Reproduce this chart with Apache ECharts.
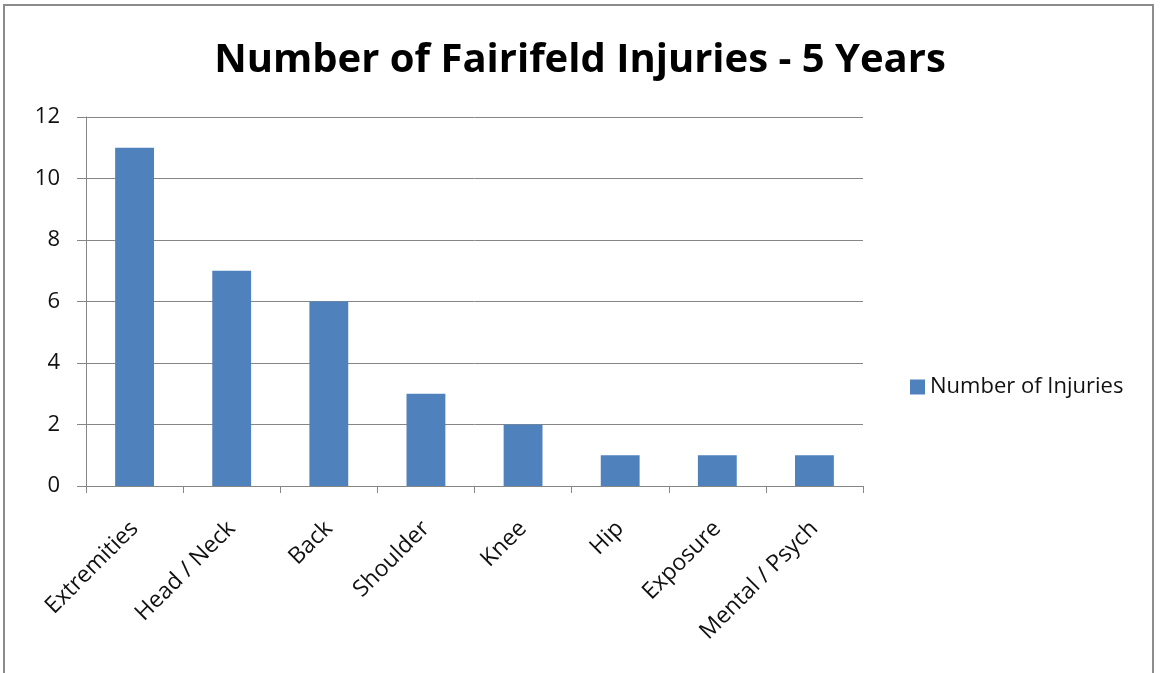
<!DOCTYPE html>
<html>
<head>
<meta charset="utf-8">
<script src="https://cdn.jsdelivr.net/npm/echarts@6/dist/echarts.min.js"></script>
<style>
  html, body { margin: 0; padding: 0; background: #fff; }
  #frame { position: absolute; left: 3px; top: 4px; width: 1151px; height: 700px; border: 2px solid #8c8c8c; box-sizing: border-box; }
  #chart { position: absolute; left: 0; top: 0; width: 1160px; height: 673px; }
</style>
</head>
<body>
<div id="frame"></div>
<div id="chart"></div>
<script>
const categories = ['Extremities', 'Head / Neck', 'Back', 'Shoulder', 'Knee', 'Hip', 'Exposure', 'Mental / Psych'];
const injuries = [11, 7, 6, 3, 2, 1, 1, 1];
const seriesName = 'Number of Injuries';
const titleText = 'Number of Fairifeld Injuries - 5 Years';

const font = '"Open Sans", "Noto Sans", sans-serif';
const chart = echarts.init(document.getElementById('chart'), null, { renderer: 'canvas' });
chart.setOption({
  animation: false,
  backgroundColor: 'transparent',
  title: {
    text: titleText,
    left: 'center',
    top: 36,
    textStyle: { fontFamily: font, fontWeight: 'bold', fontSize: 40, color: '#000' }
  },
  legend: {
    data: [seriesName],
    orient: 'vertical',
    left: 905,
    top: 371,
    icon: 'rect',
    itemWidth: 15,
    itemHeight: 15,
    itemGap: 8,
    textStyle: { fontFamily: font, fontSize: 22, color: '#111' }
  },
  grid: { left: 86, right: 297, top: 117, bottom: 187, containLabel: false },
  xAxis: {
    type: 'category',
    data: categories,
    axisLine: { lineStyle: { color: '#868686', width: 1 } },
    axisTick: { show: true, alignWithLabel: false, length: 7, lineStyle: { color: '#868686' } },
    axisLabel: { rotate: 45, interval: 0, margin: 39, fontFamily: font, fontSize: 23, color: '#111' }
  },
  yAxis: {
    type: 'value',
    min: 0,
    max: 12,
    interval: 2,
    axisLine: { show: true, lineStyle: { color: '#868686', width: 1 } },
    axisTick: { show: true, length: 9, lineStyle: { color: '#868686' } },
    splitLine: { show: true, lineStyle: { color: '#868686', width: 1 } },
    axisLabel: { margin: 26, fontFamily: font, fontSize: 22, color: '#111' }
  },
  series: [{
    name: seriesName,
    type: 'bar',
    data: injuries,
    barWidth: '40%',
    itemStyle: { color: '#4F81BD' }
  }]
});
</script>
</body>
</html>
